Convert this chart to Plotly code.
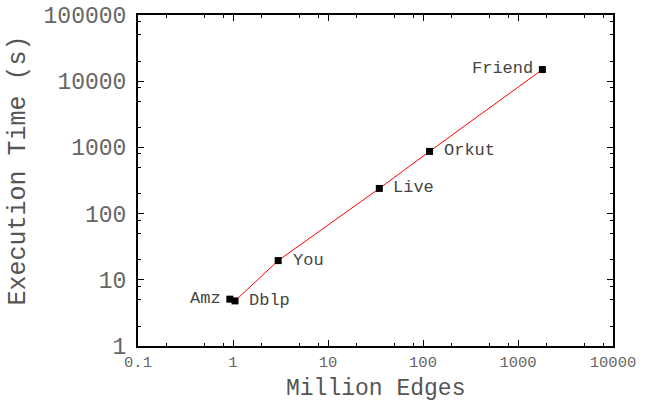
import math
import plotly.graph_objects as go

# Graph datasets: size in million edges vs. execution time in seconds
datasets = ["Amz", "Dblp", "You", "Live", "Orkut", "Friend"]
million_edges = [0.926, 1.05, 2.99, 34.7, 117.2, 1806]
exec_time = [5.1, 4.8, 19.5, 240, 870, 15000]

# label placement per point: (anchor, x shift px, y shift px)
label_pos = {
    "Amz": ("right", -7, 1),
    "Dblp": ("left", 12, 0),
    "You": ("left", 13, 0),
    "Live": ("left", 12, 1),
    "Orkut": ("left", 12, 1),
    "Friend": ("right", -7, 1),
}

x_ticks = [0.1, 1, 10, 100, 1000, 10000]
y_ticks = [1, 10, 100, 1000, 10000, 100000]
x_minor = [m * d for d in [0.1, 1, 10, 100, 1000] for m in (2, 5, 8)]
y_minor = [m * d for d in [1, 10, 100, 1000, 10000] for m in (2, 5, 8)]

FONT = "Liberation Mono, Courier New, monospace"

fig = go.Figure()
fig.add_trace(go.Scatter(
    x=million_edges, y=exec_time,
    mode="lines+markers",
    line=dict(color="#ff0000", width=1),
    marker=dict(symbol="square", size=7, color="black"),
    showlegend=False,
))

# annotations on log axes are positioned in log10 units
for name, xv, yv in zip(datasets, million_edges, exec_time):
    anchor, dx, dy = label_pos[name]
    fig.add_annotation(
        x=math.log10(xv), y=math.log10(yv), xref="x", yref="y",
        text=name, showarrow=False,
        xanchor=anchor, yanchor="middle", xshift=dx, yshift=dy,
        font=dict(family=FONT, size=17, color="#444444"),
    )

axis_common = dict(
    type="log", showgrid=False, zeroline=False, automargin=False,
    showline=True, linecolor="black", linewidth=2, mirror="ticks",
    ticks="inside", ticklen=6, tickwidth=1, tickcolor="black",
)

fig.update_xaxes(
    **axis_common,
    range=[-1, 4],
    tickvals=x_ticks, ticktext=[str(v) if v < 1 else str(int(v)) for v in x_ticks],
    tickfont=dict(family=FONT, size=15.5, color="#666666"),
    minor=dict(tickvals=x_minor, ticks="inside", ticklen=3, tickcolor="black", showgrid=False),
)
fig.update_yaxes(
    **axis_common,
    range=[0, 5],
    tickvals=y_ticks, ticktext=[str(v) for v in y_ticks],
    tickfont=dict(family=FONT, size=23, color="#666666"),
    ticklabelstandoff=5,
    minor=dict(tickvals=y_minor, ticks="inside", ticklen=3, tickcolor="black", showgrid=False),
)

fig.add_annotation(
    text="Million Edges", xref="paper", yref="paper", x=0.5, y=0.0,
    yshift=-43, xanchor="center", yanchor="middle", showarrow=False,
    font=dict(family=FONT, size=23, color="#555555"),
)
fig.add_annotation(
    text="Execution Time (s)", xref="paper", yref="paper", x=0, y=0.53,
    xshift=-119, xanchor="center", yanchor="middle", showarrow=False, textangle=-90,
    font=dict(family=FONT, size=25, color="#555555"),
)

fig.update_layout(
    width=645, height=403,
    margin=dict(l=138, r=32, t=15, b=57, autoexpand=False),
    paper_bgcolor="white", plot_bgcolor="white",
)

fig.write_html("out.html")
